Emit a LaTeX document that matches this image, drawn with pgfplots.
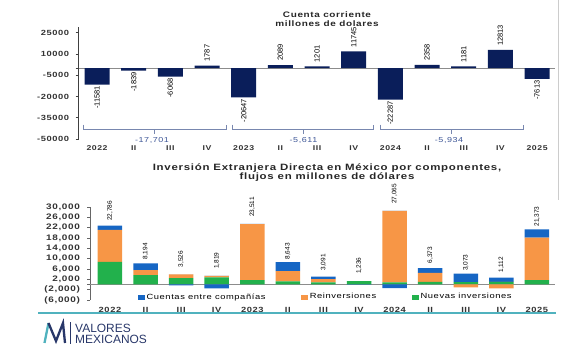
\documentclass[border=0pt]{standalone}
\usepackage{fontspec}
\setmainfont{Liberation Sans}[FakeStretch=1.25,LetterSpace=8]
\newfontfamily\plainfont{Liberation Sans}
\usepackage{pgfplots}
\usepackage{pgfplotstable}
\pgfplotsset{compat=1.18}
\definecolor{navy}{RGB}{10,30,90}
\definecolor{cgreen}{RGB}{34,177,76}
\definecolor{corange}{RGB}{247,150,70}
\definecolor{cblue}{RGB}{22,102,196}
\definecolor{bracecol}{RGB}{120,135,175}
\definecolor{sumcol}{RGB}{60,85,150}
\definecolor{tealc}{RGB}{80,178,190}
\definecolor{logonavy}{RGB}{40,55,105}

% Cuenta corriente (millones de dolares)
\pgfplotstableread{
x v
3 1787
5 2089
6 1201
7 11745
9 2358
10 1181
11 12813
}\ccpos
\pgfplotstableread{
x v
0 -11581
1 -1839
2 -6068
4 -20647
8 -22287
12 -7613
}\ccneg

% IED por componentes: positive parts (gp = nuevas, op = reinversiones, bp = cuentas)
\pgfplotstableread{
x gp op bp lab
0 8800 12300 1686 22,786
1 3600 1950 2644 8,194
2 2500 1400 0 3,526
3 2800 550 0 1,819
4 1700 21700 111 23,511
5 1200 3950 3493 8,643
6 800 1300 991 3,091
7 1300 0 0 1,236
8 800 27700 0 27,065
9 1000 3500 1873 6,373
10 900 0 3273 3,073
11 1000 0 1650 1,112
12 1700 16400 3273 21,373
}\iedpos
% negative parts
\pgfplotstableread{
x on bn
0 0 0
1 0 0
2 0 -374
3 0 -1531
4 0 0
5 0 0
6 0 0
7 0 -64
8 0 -1435
9 0 0
10 -1100 0
11 -1538 0
12 0 0
}\iedneg

\begin{document}
\begin{tikzpicture}[x=1bp,y=1bp]
\path[use as bounding box] (0bp,0bp) rectangle (561bp,350bp);

% ---------------- top chart ----------------
\begin{axis}[
  at={(78.7bp,211bp)}, anchor=south west, scale only axis,
  width=476.7bp, height=112bp,
  xmin=-0.5, xmax=12.5, ymin=-50000, ymax=29000,
  scaled y ticks=false,
  ybar, bar width=25bp, bar shift=0pt,
  axis lines*=left,
  x axis line style={draw=none},
  y axis line style={draw=black!75, line width=0.7pt},
  xtick={0,...,12},
  xticklabels={2022,II,III,IV,2023,II,III,IV,2024,II,III,IV,2025},
  x tick style={draw=none},
  ytick={-50000,-35000,-20000,-5000,10000,25000},
  yticklabels={-50000,-35000,-20000,-5000,10000,25000},
  y tick style={draw=black!75, line width=0.6pt},
  tick align=outside, major tick length=3bp,
  extra y ticks={0}, extra y tick labels={},
  extra y tick style={grid=major, major grid style={draw=black!45, line width=0.7pt}, tick style={draw=none}},
  yticklabel style={font=\bfseries\fontsize{7.5}{8}\selectfont, text=black!80, xshift=-3bp},
  xticklabel style={font=\bfseries\fontsize{7}{8}\selectfont, text=black!80},
  clip=false,
]
\addplot[fill=navy, draw=none, nodes near coords, point meta=explicit symbolic,
  every node near coord/.append style={rotate=90, anchor=west, inner xsep=4bp, inner ysep=0pt, font=\plainfont\fontsize{7.5}{8}\selectfont, text=black}]
  table[x=x,y=v,meta=v]{\ccpos};
\addplot[fill=navy, draw=none, nodes near coords, point meta=explicit symbolic,
  every node near coord/.append style={rotate=90, anchor=east, inner xsep=1.5bp, inner ysep=0pt, font=\plainfont\fontsize{7.5}{8}\selectfont, text=black}]
  table[x=x,y=v,meta=v]{\ccneg};
% annual sums
\draw[bracecol, line width=0.6pt] (axis cs:-0.38,-39900) -- (axis cs:-0.38,-43500) -- (axis cs:3.52,-43500) -- (axis cs:3.52,-39900);
\draw[bracecol, line width=0.6pt] (axis cs:1.55,-43500) -- (axis cs:1.55,-46700);
\draw[bracecol, line width=0.6pt] (axis cs:3.69,-39900) -- (axis cs:3.69,-43500) -- (axis cs:7.53,-43500) -- (axis cs:7.53,-39900);
\draw[bracecol, line width=0.6pt] (axis cs:5.62,-43500) -- (axis cs:5.62,-46700);
\draw[bracecol, line width=0.6pt] (axis cs:7.72,-39900) -- (axis cs:7.72,-43500) -- (axis cs:11.62,-43500) -- (axis cs:11.62,-39900);
\draw[bracecol, line width=0.6pt] (axis cs:9.65,-43500) -- (axis cs:9.65,-46700);
\node[text=sumcol, font=\fontsize{7.2}{8}\selectfont, inner sep=0pt] at (axis cs:1.5,-50900) {-17,701};
\node[text=sumcol, font=\fontsize{7.2}{8}\selectfont, inner sep=0pt] at (axis cs:5.63,-50900) {-5,611};
\node[text=sumcol, font=\fontsize{7.2}{8}\selectfont, inner sep=0pt] at (axis cs:9.6,-50900) {-5,934};
\end{axis}

% ---------------- bottom chart: positive parts ----------------
\begin{axis}[
  at={(90.4bp,50bp)}, anchor=south west, scale only axis,
  width=464.3bp, height=93bp,
  xmin=-0.55, xmax=12.5, ymin=-6000, ymax=30000,
  scaled y ticks=false,
  ybar stacked, bar width=24.5bp,
  stacked ignores zero=false,
  axis lines*=left,
  x axis line style={draw=none},
  y axis line style={draw=black!60, line width=0.6pt},
  xtick={0,...,12},
  xticklabels={2022,II,III,IV,2023,II,III,IV,2024,II,III,IV,2025},
  x tick style={draw=none},
  ytick={-6000,-2000,...,30000},
  yticklabels={{(6,000)},{(2,000)},{2,000},{6,000},{10,000},{14,000},{18,000},{22,000},{26,000},{30,000}},
  y tick style={draw=black!60, line width=0.5pt},
  tick align=outside, major tick length=3bp,
  extra y ticks={0}, extra y tick labels={},
  extra y tick style={grid=major, major grid style={draw=black!45, line width=0.6pt}, tick style={draw=none}},
  yticklabel style={font=\bfseries\fontsize{8}{9}\selectfont, text=black!80, xshift=-4bp},
  xticklabel style={font=\bfseries\fontsize{7.5}{8}\selectfont, text=black!80, yshift=-0.5bp},
  clip=false,
  legend style={at={(0.1025,0.032)}, anchor=west, draw=none, fill=none,
    font=\fontsize{7.5}{8}\selectfont, inner sep=0pt, row sep=0pt,
    /tikz/every even column/.append style={column sep=34bp}},
  legend columns=3, legend cell align=left,
]
\addplot[fill=cgreen, draw=none, forget plot] table[x=x,y=gp]{\iedpos};
\addplot[fill=corange, draw=none, forget plot] table[x=x,y=op]{\iedpos};
\addplot[fill=cblue, draw=none, forget plot, nodes near coords, point meta=explicit symbolic,
  every node near coord/.append style={rotate=90, anchor=west, inner xsep=7bp, inner ysep=0pt, font=\plainfont\fontsize{6.5}{7}\selectfont, text=black}]
  table[x=x,y=bp,meta=lab]{\iedpos};
\addlegendimage{legend image code/.code={\fill[cblue] (0bp,-2.2bp) rectangle (6bp,2.2bp);}}
\addlegendentry{Cuentas entre compañías}
\addlegendimage{legend image code/.code={\fill[corange] (0bp,-2.2bp) rectangle (6bp,2.2bp);}}
\addlegendentry{Reinversiones}
\addlegendimage{legend image code/.code={\fill[cgreen] (0bp,-2.2bp) rectangle (6bp,2.2bp);}}
\addlegendentry{Nuevas inversiones}
\end{axis}

% ---------------- bottom chart: negative parts ----------------
\begin{axis}[
  at={(90.4bp,50bp)}, anchor=south west, scale only axis,
  width=464.3bp, height=93bp,
  xmin=-0.55, xmax=12.5, ymin=-6000, ymax=30000,
  ybar stacked, bar width=24.5bp,
  hide axis, clip=false,
]
\addplot[fill=corange, draw=none] table[x=x,y=on]{\iedneg};
\addplot[fill=cblue, draw=none] table[x=x,y=bn]{\iedneg};
\end{axis}

% ---------------- titles ----------------
\node[font=\bfseries\fontsize{8}{9}\selectfont, text=black!85, inner sep=0pt] at (327bp,335.5bp) {Cuenta corriente};
\node[font=\bfseries\fontsize{8}{9}\selectfont, text=black!85, inner sep=0pt] at (327bp,326bp) {millones de dolares};
\node[font=\bfseries\fontsize{9.2}{10}\selectfont, text=black!85, inner sep=0pt] at (327bp,182bp) {Inversión Extranjera Directa en México por componentes,};
\node[font=\bfseries\fontsize{9.2}{10}\selectfont, text=black!85, inner sep=0pt] at (327bp,173bp) {flujos en millones de dólares};

% ---------------- footer ----------------
\draw[tealc, line width=1.2bp] (38bp,37bp) -- (556bp,37bp);
\draw[tealc, line width=2.3bp] (44.5bp,7bp) -- (48.5bp,27bp);
\draw[logonavy, line width=2.3bp, line join=miter] (48.5bp,27bp) -- (56bp,9bp) -- (63bp,27bp) -- (65bp,7bp);
\draw[logonavy, line width=0.8bp] (70bp,6bp) -- (70bp,28bp);
\node[anchor=base west, inner sep=0pt, text=logonavy, font=\plainfont\fontsize{12}{12}\selectfont] at (75bp,18bp) {VALORES};
\node[anchor=base west, inner sep=0pt, text=logonavy, font=\plainfont\fontsize{12}{12}\selectfont] at (75bp,7bp) {MEXICANOS};
\draw[black!20, line width=0.6bp] (558bp,150bp) -- (558bp,350bp);
\end{tikzpicture}
\end{document}
